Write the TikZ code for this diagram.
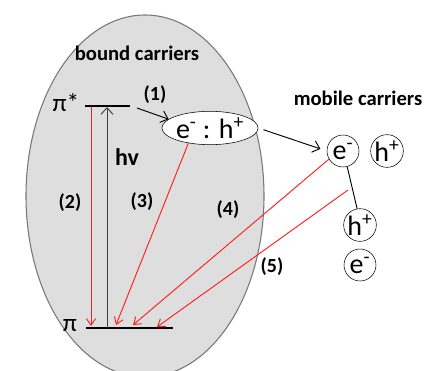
\documentclass[tikz,border=0pt]{standalone}
\usepackage{fontspec}
\setmainfont{Carlito}
\usepackage{xcolor}
\usepackage{tikz}
\usetikzlibrary{shapes.geometric, arrows.meta}
\definecolor{cloud}{RGB}{222,222,222}
\definecolor{rim}{RGB}{120,120,120}
\definecolor{decayred}{RGB}{255,30,30}
\tikzstyle{title} = [font=\fontsize{15.5}{17}\selectfont\bfseries]
\tikzstyle{tag} = [font=\fontsize{15}{17}\selectfont\bfseries]
\tikzstyle{orbital} = [font=\fontsize{19}{20}\selectfont]
\tikzstyle{carrier} = [circle, draw=black, fill=white, minimum size=24pt, inner sep=0pt, font=\fontsize{21}{22}\selectfont]
\tikzstyle{pair} = [ellipse, draw=black, fill=white, minimum width=63pt, minimum height=25pt, inner sep=0pt, font=\fontsize{21}{22}\selectfont]
\tikzstyle{level} = [line width=1.3pt]
\tikzstyle{arrow} = [line width=0.7pt, -{Straight Barb[length=5pt, width=9pt]}]
\tikzstyle{decay} = [decayred, line width=0.7pt, -{Straight Barb[length=5pt, width=7pt]}]

\begin{document}
\begin{tikzpicture}[x=0.75pt, y=-0.75pt]
  \useasboundingbox (0,0) rectangle (425,371);

  % bound region
  \filldraw[fill=cloud, draw=rim, line width=0.8pt] (145,196) ellipse [x radius=119, y radius=181];
  \node (bound)  [title] at (137,53) {bound carriers};
  \node (mobile) [title] at (358,98) {mobile carriers};

  % levels
  \coordinate (pistarL) at (85,106);
  \coordinate (pistarR) at (130,106);
  \coordinate (piL) at (86,328);
  \coordinate (piR) at (173,328);
  \draw [level] (pistarL) -- (pistarR);
  \draw [level] (piL) -- (piR);
  \node (pistar) [orbital] at (66,103) {π*};
  \node (pi)     [orbital] at (70,326) {π};

  % carriers
  \node (pair) [pair] at (210,128) {e\textsuperscript{-} : h\textsuperscript{+}};
  \node (e1) [carrier] at (343,151) {e\textsuperscript{-}};
  \node (h1) [carrier] at (387,151) {h\textsuperscript{+}};
  \node (h2) [carrier] at (360,225) {h\textsuperscript{+}};
  \node (e2) [carrier] at (360,265) {e\textsuperscript{-}};

  % end points on the levels
  \coordinate (top2) at (91,107);
  \coordinate (bot2) at (91,326);
  \coordinate (tophv) at (107,107);
  \coordinate (bothv) at (107,328);
  \coordinate (bot3) at (116,325);
  \coordinate (bot4) at (133,325);
  \coordinate (bot5) at (157,327);
  \coordinate (start1) at (137,108);
  \coordinate (start5) at (348,190);

  % transitions
  \draw [arrow, draw=black!75] (bothv) -- (tophv);
  \draw [arrow] (start1) -- (pair.168);
  \draw [arrow, shorten <=4pt, shorten >=5pt] (pair.east) -- (e1.west);
  \draw [line width=0.7pt] (e1.285) -- (h2.100);
  \draw [decay] (top2) -- (bot2);
  \draw [decay] (pair.215) -- (bot3);
  \draw [decay] (e1.210) -- (bot4);
  \draw [decay] (start5) -- (bot5);

  % labels
  \node (hv)  [tag, font=\fontsize{18}{19}\selectfont\bfseries] at (127,157) {hv};
  \node (l1) [tag] at (155,95) {(1)};
  \node (l2) [tag] at (70,203) {(2)};
  \node (l3) [tag] at (142,202) {(3)};
  \node (l4) [tag] at (228,210) {(4)};
  \node (l5) [tag] at (272,267) {(5)};
\end{tikzpicture}
\end{document}
